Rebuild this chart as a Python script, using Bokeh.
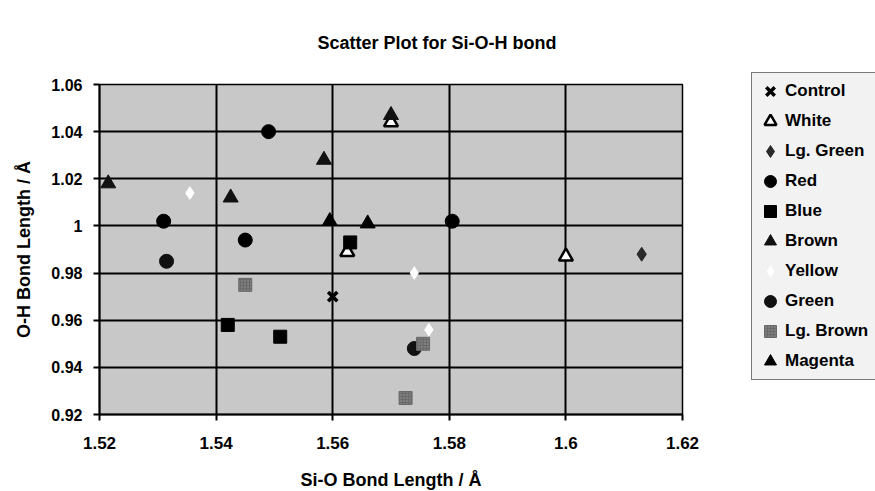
from bokeh.plotting import figure
from bokeh.models import FixedTicker, Legend, LegendItem, Range1d
from bokeh.embed import file_html
from bokeh.resources import INLINE

# ---- data ----
x_ticks = [1.52, 1.54, 1.56, 1.58, 1.60, 1.62]
x_tick_labels = ["1.52", "1.54", "1.56", "1.58", "1.6", "1.62"]
y_ticks = [0.92, 0.94, 0.96, 0.98, 1.00, 1.02, 1.04, 1.06]
y_tick_labels = ["0.92", "0.94", "0.96", "0.98", "1", "1.02", "1.04", "1.06"]

control_x = [1.560]
control_y = [0.970]
white_x = [1.570, 1.5625, 1.600]
white_y = [1.044, 0.989, 0.987]
lggreen_x = [1.613]
lggreen_y = [0.988]
red_x = [1.549, 1.531, 1.545, 1.5805]
red_y = [1.040, 1.002, 0.994, 1.002]
blue_x = [1.542, 1.551, 1.563]
blue_y = [0.958, 0.953, 0.993]
brown_x = [1.5215, 1.5425, 1.5585, 1.570]
brown_y = [1.018, 1.012, 1.028, 1.047]
yellow_x = [1.5355, 1.574, 1.5765]
yellow_y = [1.014, 0.980, 0.956]
green_x = [1.5315, 1.574]
green_y = [0.985, 0.948]
lgbrown_x = [1.545, 1.5755, 1.5725]
lgbrown_y = [0.975, 0.950, 0.927]
magenta_x = [1.5595, 1.566]
magenta_y = [1.002, 1.001]

FONT = "Liberation Sans"

p = figure(width=866, height=488, output_backend="svg", toolbar_location=None,
           x_range=Range1d(1.52, 1.62), y_range=Range1d(0.92, 1.06),
           frame_width=583, frame_height=330,
           min_border_left=99, min_border_top=84, min_border_bottom=74,
           min_border_right=184)

p.background_fill_color = "#c8c8c8"
p.border_fill_color = "white"
p.outline_line_color = "black"
p.outline_line_width = 1.5

# title
p.title.text = "Scatter Plot for Si-O-H bond"
p.title.text_font = FONT
p.title.text_font_size = "18px"
p.title.text_font_style = "bold"
p.title.text_color = "black"
p.title.align = "left"
p.title.vertical_align = "top"
p.title.offset = 218
p.title.standoff = 60

# axes
for ax in (p.xaxis[0], p.yaxis[0]):
    ax.axis_line_color = "black"
    ax.axis_line_width = 2
    ax.major_tick_line_color = "black"
    ax.major_tick_line_width = 2
    ax.major_tick_out = 6
    ax.major_tick_in = 0
    ax.minor_tick_line_color = None
    ax.major_label_text_font = FONT
    ax.major_label_text_font_style = "bold"
    ax.major_label_text_color = "black"
    ax.axis_label_text_font = FONT
    ax.axis_label_text_font_size = "18px"
    ax.axis_label_text_font_style = "bold"
    ax.axis_label_text_color = "black"

p.xaxis.major_label_text_font_size = "17px"
p.yaxis.major_label_text_font_size = "16px"
p.xaxis.ticker = FixedTicker(ticks=x_ticks)
p.yaxis.ticker = FixedTicker(ticks=y_ticks)
p.xaxis.major_label_overrides = {t: l for t, l in zip(x_ticks, x_tick_labels)}
p.yaxis.major_label_overrides = {t: l for t, l in zip(y_ticks, y_tick_labels)}
p.xaxis.axis_label = "Si-O Bond Length / Å"
p.yaxis.axis_label = "O-H Bond Length / Å"
p.xaxis.major_label_standoff = 16
p.yaxis.major_label_standoff = 11
p.xaxis.axis_label_standoff = 18
p.yaxis.axis_label_standoff = 14

p.xgrid.ticker = FixedTicker(ticks=x_ticks)
p.ygrid.ticker = FixedTicker(ticks=y_ticks)
for g in (p.xgrid[0], p.ygrid[0]):
    g.grid_line_color = "black"
    g.grid_line_width = 2

# series
r_control = p.scatter(control_x, control_y, marker="x", size=13,
                      line_color="black", line_width=3.5)
r_white = p.scatter(white_x, white_y, marker="triangle", size=14,
                    fill_color="white", line_color="black", line_width=2.5)
r_lggreen = p.scatter(lggreen_x, lggreen_y, marker="diamond", size=14,
                      fill_color="#2a2a2a", line_color="#2a2a2a")
r_red = p.scatter(red_x, red_y, marker="circle", size=14,
                  fill_color="black", line_color="black")
r_blue = p.scatter(blue_x, blue_y, marker="square", size=13,
                   fill_color="black", line_color="black")
r_brown = p.scatter(brown_x, brown_y, marker="triangle", size=15,
                    fill_color="#111111", line_color="#111111")
r_yellow = p.scatter(yellow_x, yellow_y, marker="diamond", size=14,
                     fill_color="white", line_color=None)
r_green = p.scatter(green_x, green_y, marker="circle", size=14,
                    fill_color="#111111", line_color="#111111")
r_lgbrown = p.scatter(lgbrown_x, lgbrown_y, marker="square", size=13,
                      fill_color="#6a6a6a", line_color="#6a6a6a",
                      hatch_pattern="dot", hatch_color="#9a9a9a", hatch_scale=3)
r_magenta = p.scatter(magenta_x, magenta_y, marker="triangle", size=15,
                      fill_color="black", line_color="black")

items = [
    LegendItem(label="Control", renderers=[r_control]),
    LegendItem(label="White", renderers=[r_white]),
    LegendItem(label="Lg. Green", renderers=[r_lggreen]),
    LegendItem(label="Red", renderers=[r_red]),
    LegendItem(label="Blue", renderers=[r_blue]),
    LegendItem(label="Brown", renderers=[r_brown]),
    LegendItem(label="Yellow", renderers=[r_yellow]),
    LegendItem(label="Green", renderers=[r_green]),
    LegendItem(label="Lg. Brown", renderers=[r_lgbrown]),
    LegendItem(label="Magenta", renderers=[r_magenta]),
]
legend = Legend(items=items, location=(69, 34))
legend.background_fill_color = "#f2f2f2"
legend.background_fill_alpha = 1
legend.border_line_color = "black"
legend.border_line_width = 1.5
legend.label_text_font = FONT
legend.label_text_font_size = "17px"
legend.label_text_font_style = "bold"
legend.label_text_color = "black"
legend.padding = 3
legend.spacing = 0
legend.margin = 0
legend.label_height = 30
legend.glyph_height = 30
legend.glyph_width = 30
legend.label_standoff = -3
legend.label_width = 95
p.add_layout(legend, "right")

open("out.html", "w").write(file_html(p, INLINE))
